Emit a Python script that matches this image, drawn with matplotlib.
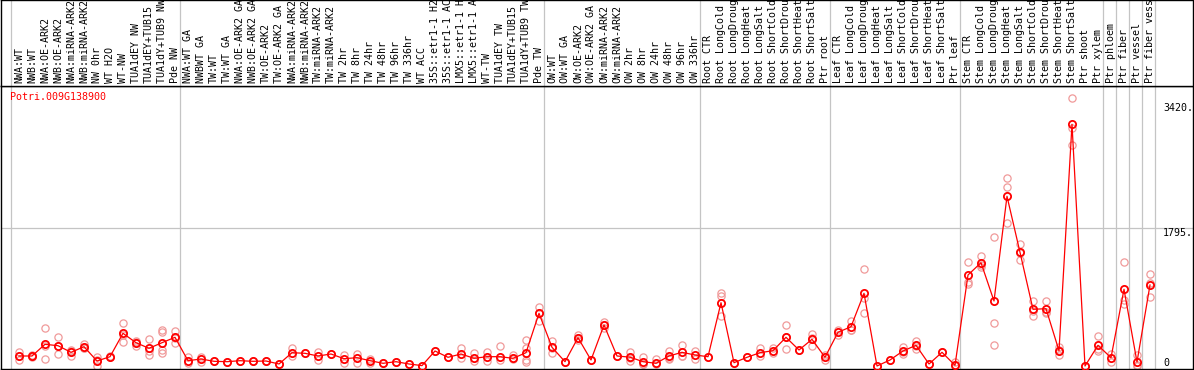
import matplotlib
matplotlib.use("Agg")
import matplotlib.pyplot as plt
from matplotlib.transforms import ScaledTranslation, blended_transform_factory

# ---------------- data ----------------
gene_id = "Potri.009G138900"

labels = [
    "NWA:WT", "NWB:WT", "NWA:OE-ARK2", "NWB:OE-ARK2", "NWA:miRNA-ARK2", "NWB:miRNA-ARK2",
    "NW 0hr", "WT H2O", "WT-NW", "TUA1dEY NW", "TUA1dEY+TUB15", "TUA1dY+TUB9 NW", "Pde NW",
    "NWA:WT GA", "NWBWT GA", "TW:WT", "TW:WT GA", "NWA:OE-ARK2 GA", "NWB:OE-ARK2 GA",
    "TW:OE-ARK2", "TW:OE-ARK2 GA", "NWA:miRNA-ARK2", "NWB:miRNA-ARK2", "TW:miRNA-ARK2",
    "TW:miRNA-ARK2", "TW 2hr", "TW 8hr", "TW 24hr", "TW 48hr", "TW 96hr", "TW 336hr",
    "WT ACC", "35S::etr1-1 H2", "35S::etr1-1 AC", "LMX5::etr1-1 H", "LMX5::etr1-1 A",
    "WT-TW", "TUA1dEY TW", "TUA1dEY+TUB15", "TUA1dY+TUB9 TW", "Pde TW",
    "OW:WT", "OW:WT GA", "OW:OE-ARK2", "OW:OE-ARK2 GA", "OW:miRNA-ARK2", "OW:miRNA-ARK2",
    "OW 2hr", "OW 8hr", "OW 24hr", "OW 48hr", "OW 96hr", "OW 336hr",
    "Root CTR", "Root LongCold", "Root LongDroug", "Root LongHeat", "Root LongSalt",
    "Root ShortCold", "Root ShortDrou", "Root ShortHeat", "Root ShortSalt", "Ptr root",
    "Leaf CTR", "Leaf LongCold", "Leaf LongDroug", "Leaf LongHeat", "Leaf LongSalt",
    "Leaf ShortCold", "Leaf ShortDrou", "Leaf ShortHeat", "Leaf ShortSalt", "Ptr leaf",
    "Stem CTR", "Stem LongCold", "Stem LongDroug", "Stem LongHeat", "Stem LongSalt",
    "Stem ShortCold", "Stem ShortDrou", "Stem ShortHeat", "Stem ShortSalt", "Ptr shoot",
    "Ptr xylem", "Ptr phloem", "Ptr fiber", "Ptr vessel", "Ptr fiber vess",
]

group_sizes = [13, 28, 12, 10, 10, 11, 1, 1, 1, 1]

means = [
    130, 130, 282, 264, 178, 251, 65, 121, 425, 303, 230, 303, 373,
    69, 91, 61, 56, 69, 61, 65, 26, 173, 165, 130, 156, 95, 108, 69, 35, 56, 26, 5,
    195, 113, 156, 100, 121, 121, 100, 173, 685,
    243, 56, 368, 78, 533, 130, 115, 56, 35, 130, 178, 143,
    121, 823, 43, 113, 173, 199, 373, 208, 347, 113,
    438, 511, 945, 0, 78, 195, 269, 26, 178, 9,
    1183, 1343, 845, 2206, 1478, 737, 745, 199, 3142, 0,
    269, 108, 997, 52, 1053,
]

replicates = [
    [186, 78, 130], [140, 120, 130], [490, 91, 265], [373, 156, 264], [195, 130, 210],
    [286, 230, 240], [113, 0, 80], [125, 115], [555, 316, 405], [329, 264, 316],
    [355, 143, 190], [468, 446, 208, 173], [455, 295, 369],
    [113, 35], [113, 52], [60], [56], [69], [61], [65], [26], [238, 130], [165],
    [178, 78], [156], [147, 43], [156, 43], [87, 43], [35], [56], [26], [5],
    [195], [113], [230, 100], [165, 69], [186, 69], [264, 78], [143, 90],
    [338, 230, 78, 56], [771, 589, 695],
    [325, 165, 240], [56], [403, 368, 333], [78], [576, 490, 533], [130],
    [186, 60, 100], [113, 30, 26], [87, 20], [199, 100, 91], [273, 130, 130], [199, 87],
    [121], [945, 910, 650], [43], [113], [230, 130], [230, 168], [533, 215, 373],
    [208], [416, 264, 360], [147, 80],
    [470, 406], [589, 474, 470], [1257, 880, 685], [0], [78], [251, 156, 178],
    [329, 217, 260], [26], [178], [56, 0],
    [1356, 1096, 1066], [1430, 1291, 1308], [1677, 555, 269], [2440, 2331, 1855],
    [1586, 1378, 1470], [845, 650, 716], [845, 694, 696], [251, 143, 203],
    [3480, 3090, 2869], [0],
    [390, 199, 218], [56, 160], [1356, 858, 806], [139, 0, 17], [1192, 893, 1075],
]

ytick_vals = [3420, 1795, 0]
ytick_labels = ["3420.", "1795.", "0"]

# ---------------- figure ----------------
W, H, DPI = 1194, 370, 100
fig = plt.figure(figsize=(W / DPI, H / DPI), dpi=DPI)
fig.patch.set_facecolor("white")

mono = "DejaVu Sans Mono"
fs = 7.2
grey = "#c4c4c4"
red = "#ff0000"
pink = "#f09a9a"

x_left, x_right = -18 / 13, 1174 / 13
header_bottom_px = 86
plot_bottom_px = 368.5

ax = fig.add_axes([1 / W, (H - plot_bottom_px) / H, 1192 / W, (plot_bottom_px - header_bottom_px) / H])
axh = fig.add_axes([1 / W, (H - header_bottom_px) / H, 1192 / W, header_bottom_px / H])

for a in (ax, axh):
    a.set_xlim(x_left, x_right)
    a.set_xticks([])
    a.set_yticks([])
    for s in a.spines.values():
        s.set_color("black")
        s.set_linewidth(1.0)
axh.set_ylim(0, 1)
ax.set_ylim(-32.5, 3640)

# group separators
pos = -1
bounds = [pos + 5 / 13]
for g in group_sizes:
    pos += g
    bounds.append(pos + 5 / 13)
for b in bounds:
    ax.axvline(b, color=grey, lw=0.9, zorder=1)
    axh.axvline(b, color=grey, lw=0.9, zorder=1)

# horizontal grid at middle tick
ax.axhline(1795, color=grey, lw=0.9, zorder=1)

# header labels
tr = blended_transform_factory(axh.transData, axh.transAxes)
for i, lab in enumerate(labels):
    axh.text(i, 3 / 86, lab, rotation=90, ha="center", va="bottom", fontsize=fs,
             family=mono, color="black", transform=tr)

# replicate points
xs = list(range(len(means)))
for i, reps in enumerate(replicates):
    ax.plot([i] * len(reps), reps, linestyle="none", marker="o", markersize=5.2,
            markerfacecolor="none", markeredgecolor=pink, markeredgewidth=0.9, zorder=2)

# mean line
ax.plot(xs, means, color=red, lw=0.9, marker="o", markersize=5.2,
        markerfacecolor="none", markeredgecolor=red, markeredgewidth=1.3, zorder=3)

# right-hand value labels
for v, t in zip(ytick_vals, ytick_labels):
    if v == 0:
        off = ScaledTranslation(0, 0.2 / DPI, fig.dpi_scale_trans)
    else:
        off = ScaledTranslation(0, -7.6 / DPI, fig.dpi_scale_trans)
    ax.text(88.0, v, t, ha="left", va="baseline", fontsize=fs, family=mono,
            color="black", transform=ax.transData + off, zorder=4)

# gene id
ax.text(9 / 1192, 1 - 11 / (plot_bottom_px - header_bottom_px), gene_id, transform=ax.transAxes,
        ha="left", va="center", fontsize=fs, family=mono, color=red)

fig.savefig("out.png", dpi=DPI, facecolor="white")
